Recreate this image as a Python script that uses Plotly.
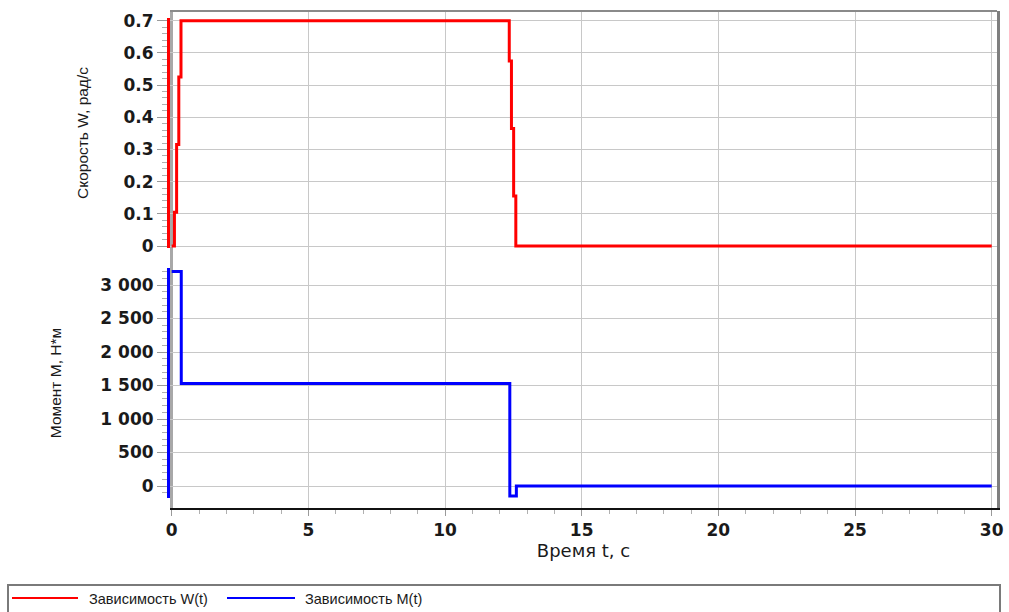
import plotly.graph_objects as go

# ---------------- data ----------------
t_w = [0.0, 0.10, 0.18, 0.26, 0.34, 12.35, 12.43, 12.51, 12.59, 30.0]
w_vals = [0.0, 0.105, 0.315, 0.525, 0.70, 0.575, 0.365, 0.155, 0.0, 0.0]

t_m = [0.0, 0.35, 12.37, 12.61, 30.0]
m_vals = [3200, 1530, -150, 0, 0]

series_names = ["Зависимость W(t)", "Зависимость M(t)"]
series_colors = ["#ff0000", "#0000ff"]

x_tick_vals = [0, 5, 10, 15, 20, 25, 30]
w_tick_vals = [0, 0.1, 0.2, 0.3, 0.4, 0.5, 0.6, 0.7]
m_tick_vals = [0, 500, 1000, 1500, 2000, 2500, 3000]

x_title = "Время t, с"
w_title = "Скорость W, рад/с"
m_title = "Момент М, Н*м"

# ---------------- layout constants ----------------
W, H = 1009, 612
L, R, T, B = 170, 12, 11, 104
PW, PH = W - L - R, H - T - B


def px_x(X):
    return (X - L) / PW


def px_y(Y):
    return (H - B - Y) / PH


X_RANGE = [-0.062, 30.194]
W_RANGE = [-0.0062, 0.7084]
M_RANGE = [-179.0, 3254.0]
W_DOMAIN = [px_y(248), px_y(18)]
M_DOMAIN = [px_y(498), px_y(268)]

TICK_FONT = dict(family="DejaVu Sans", size=17, color="#1a1a1a", weight="bold")
XTITLE_FONT = dict(family="DejaVu Sans", size=18, color="#1a1a1a")
YTITLE_FONT = dict(family="Liberation Sans", size=15.5, color="#1a1a1a")
LEG_FONT = dict(family="Liberation Sans", size=14.5, color="#1a1a1a")
GRID = "#c8c8c8"
TICKC = "#9a9a9a"

fig = go.Figure()

# empty trace to create the full-height frame subplot (vertical grid / border)
fig.add_trace(go.Scatter(x=[], y=[], xaxis="x", yaxis="y", showlegend=False, hoverinfo="skip"))

fig.add_trace(go.Scatter(
    x=t_w, y=w_vals, name=series_names[0], mode="lines", line_shape="hv",
    line=dict(color=series_colors[0], width=3), xaxis="x2", yaxis="y2"))
fig.add_trace(go.Scatter(
    x=t_m, y=m_vals, name=series_names[1], mode="lines", line_shape="hv",
    line=dict(color=series_colors[1], width=3), xaxis="x3", yaxis="y3"))

fig.update_layout(
    template="none",
    width=W, height=H, autosize=False,
    margin=dict(l=L, r=R, t=T, b=B, pad=0, autoexpand=False),
    paper_bgcolor="white", plot_bgcolor="rgba(0,0,0,0)",
    separators=". ", showlegend=False,
    xaxis=dict(
        domain=[0, 1], range=X_RANGE, anchor="y", side="bottom", automargin=False,
        showline=True, linecolor="#111111", linewidth=2,
        tickmode="array", tickvals=x_tick_vals, ticks="outside", ticklen=6,
        tickcolor=TICKC, tickwidth=1, tickfont=TICK_FONT, ticklabelstandoff=0,
        minor=dict(tickmode="linear", tick0=0, dtick=1, ticks="outside", ticklen=4,
                   tickcolor="#b0b0b0", showgrid=False),
        showgrid=True, gridcolor=GRID, gridwidth=1,
        zeroline=True, zerolinecolor="#a8a8a8", zerolinewidth=2.5,
        title=dict(text=x_title, font=XTITLE_FONT, standoff=4),
    ),
    yaxis=dict(
        domain=[0, 1], range=[0, 1], anchor="x", side="right", automargin=False,
        showline=True, linecolor="#7f7f7f", linewidth=3,
        showgrid=False, zeroline=False, showticklabels=False, ticks="",
    ),
    xaxis2=dict(
        matches="x", anchor="free", position=1, side="top", automargin=False,
        showline=True, linecolor="#8a8a8a", linewidth=2,
        showgrid=False, zeroline=False, showticklabels=False, ticks="",
    ),
    yaxis2=dict(
        domain=W_DOMAIN, range=W_RANGE, anchor="x2", automargin=False,
        showline=True, linecolor=series_colors[0], linewidth=3,
        tickmode="array", tickvals=w_tick_vals, ticks="outside", ticklen=10,
        tickcolor=TICKC, tickwidth=1, tickfont=TICK_FONT,
        minor=dict(tickmode="linear", tick0=0, dtick=0.02, ticks="outside", ticklen=5,
                   tickcolor="#b0b0b0", showgrid=False),
        showgrid=True, gridcolor=GRID, gridwidth=1, zeroline=False,
        title=dict(text=w_title, font=YTITLE_FONT, standoff=32),
    ),
    xaxis3=dict(
        matches="x", anchor="y3", automargin=False,
        showline=False, showgrid=False, zeroline=False, showticklabels=False, ticks="",
    ),
    yaxis3=dict(
        domain=M_DOMAIN, range=M_RANGE, anchor="x3", automargin=False,
        showline=True, linecolor=series_colors[1], linewidth=3,
        tickmode="array", tickvals=m_tick_vals, ticks="outside", ticklen=10,
        tickcolor=TICKC, tickwidth=1, tickfont=TICK_FONT, separatethousands=True,
        minor=dict(tickmode="linear", tick0=0, dtick=100, ticks="outside", ticklen=5,
                   tickcolor="#b0b0b0", showgrid=False),
        showgrid=True, gridcolor=GRID, gridwidth=1, zeroline=False,
        title=dict(text=m_title, font=YTITLE_FONT, standoff=35),
    ),
)

# ---------------- legend box (drawn below the plot) ----------------
shapes = [dict(type="rect", xref="paper", yref="paper",
               x0=px_x(8), x1=px_x(1000), y0=px_y(618), y1=px_y(585),
               line=dict(color="#7a7a7a", width=2), fillcolor="white", layer="above")]
annotations = []
leg_line_x = [(12, 78), (227, 295)]
leg_text_x = [87, 303]
for name, col, (a, b), tx in zip(series_names, series_colors, leg_line_x, leg_text_x):
    shapes.append(dict(type="line", xref="paper", yref="paper",
                       x0=px_x(a), x1=px_x(b), y0=px_y(598), y1=px_y(598),
                       line=dict(color=col, width=2), layer="above"))
    annotations.append(dict(text=name, xref="paper", yref="paper", x=px_x(tx), y=px_y(599),
                            xanchor="left", yanchor="middle", showarrow=False, font=LEG_FONT))
fig.update_layout(shapes=shapes, annotations=annotations)

fig.write_html("out.html")
